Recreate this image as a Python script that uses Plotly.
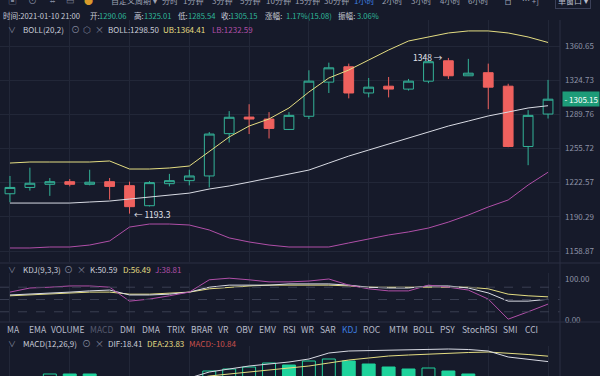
import numpy as np
import plotly.graph_objects as go

# ---------------- data ----------------
idx = list(range(28))
open_ = [1212, 1218, 1221, 1223.5, 1221, 1223.5, 1219.7, 1200.7, 1221.6, 1224.5,
         1229, 1270.4, 1287, 1285, 1274.6, 1287.8, 1322.7, 1338.7, 1311.5, 1318.5,
         1315.5, 1323.7, 1345, 1329.3, 1332.5, 1318.5, 1257.7, 1290.06]
high = [1229, 1237, 1227, 1226, 1235, 1227, 1223.5, 1224, 1231, 1235,
        1272, 1293, 1300, 1292, 1292, 1335, 1343, 1342, 1327, 1328,
        1326, 1346, 1348, 1347, 1342, 1321, 1294, 1325.01]
low = [1204, 1215, 1210, 1219, 1220, 1206.5, 1193.3, 1200, 1219, 1220,
       1218, 1261.6, 1270, 1265.6, 1274, 1285, 1311.5, 1306, 1307, 1307,
       1314, 1321.6, 1326, 1329, 1295, 1257, 1239.4, 1285.54]
close = [1218, 1222, 1223.5, 1221, 1223, 1219, 1199.8, 1222.6, 1224.5, 1229,
         1270, 1286.8, 1285, 1275.6, 1288.7, 1323.7, 1337.6, 1311.5, 1317.5, 1315.5,
         1323.7, 1344, 1329.3, 1332, 1317.5, 1257.7, 1288.7, 1305.15]

boll_ub = [1241.5, 1242.5, 1242.5, 1242.5, 1242.5, 1243.5, 1235.7, 1235.7, 1236.7, 1238.6,
           1253.0, 1267.1, 1278.0, 1285.1, 1296.2, 1312.5, 1327.0, 1335.3, 1345.8, 1356.4,
           1366.0, 1370.3, 1374.6, 1376.8, 1376.8, 1374.6, 1370.3, 1364.41]
boll_mid = [1203.2, 1203.2, 1203.2, 1203.2, 1204.2, 1205.1, 1207.0, 1208.9, 1210.8, 1212.6,
            1216.5, 1219.4, 1223.1, 1227.0, 1230.8, 1234.7, 1241.5, 1248.3, 1254.2, 1260.1,
            1266.0, 1272.0, 1278.0, 1283.0, 1288.1, 1292.1, 1296.2, 1298.50]
boll_lb = [1161.6, 1161.6, 1162.5, 1162.5, 1164.3, 1168.0, 1180.8, 1183.6, 1183.6, 1182.7,
           1178.1, 1170.8, 1167.1, 1164.3, 1162.5, 1162.5, 1162.5, 1166.2, 1169.8, 1173.5,
           1176.3, 1179.9, 1185.4, 1192.0, 1199.5, 1206.1, 1220.3, 1232.59]

kdj_k = [61, 63, 66, 68, 71, 73, 61, 61, 63, 68, 80, 85, 85, 85, 88, 88, 88, 85, 80, 78,
         78, 83, 83, 78, 66, 46, 46, 50.59]
kdj_d = [59, 61, 63, 66, 68, 68, 63, 63, 66, 68, 76, 80, 83, 85, 85, 85, 85, 83, 80, 80,
         80, 80, 80, 80, 76, 63, 59, 56.49]
kdj_j = [68, 78, 80, 83, 83, 80, 46, 51, 59, 68, 98, 102, 98, 93, 93, 95, 100, 85, 76, 71,
         71, 85, 80, 73, 51, 2, 20, 38.81]

macd_dif = [-2, -1.5, -1, -0.5, 0, 0.5, -1, -1.5, -0.5, 2, 8, 11, 14, 16, 18, 21, 27, 29, 29.5, 30,
            30, 30.5, 31, 30.5, 29, 23, 20.5, 18.41]
macd_dea = [-3, -2.5, -2, -1.5, -1, -0.5, -0.5, -0.5, -0.5, 0.5, 4, 6, 8, 10, 12.5, 14, 17, 20, 22, 24,
            25, 26, 27, 27.5, 28, 27, 25.5, 23.83]
macd_hist = [2, 3, 6, 6, 6, 3, -2, -3, 1, 3, 9, 11, 13, 17, 15, 19, 21, 19, 16, 13,
             11, 12, 9, 6, -2, -8, -10, -10.84]

price_ticks = [1158.87, 1190.29, 1222.57, 1255.72, 1289.76, 1324.73, 1360.65]

# ---------------- style ----------------
W, H = 600, 376
BG = "#161a2a"
GRID = "#222738"
SEP = "#2a2f42"
FONT = "Noto Sans CJK SC, Noto Sans, sans-serif"
UP = "#33b398"
DOWN = "#ef615e"
MACD_G = "#1fd39c"
YEL = "#e4dd82"
WHT = "#d8dae3"
PUR = "#b04fa8"
LBL = "#c9ccd8"
DIM = "#80859a"
TEAL = "#2fb89a"
AXT = "#8d92a6"

def py(px):
    return 1 - px / H

def pxx(px):
    return px / W

XEND = 560 / W

# main log axis mapping from tick pixel positions
lt, lb_ = np.log10(1360.65), np.log10(1158.87)
k = (lt - lb_) / (251 - 46)
main_range = [lb_ - k * (262 - 251), lt + k * (46 - 20)]

fig = go.Figure()

fig.add_trace(go.Candlestick(
    x=idx, open=open_, high=high, low=low, close=close,
    increasing=dict(line=dict(color=UP, width=1), fillcolor=BG),
    decreasing=dict(line=dict(color=DOWN, width=1), fillcolor=DOWN),
    whiskerwidth=0, xaxis="x", yaxis="y", showlegend=False, hoverinfo="skip"))

for arr, col in [(boll_ub, YEL), (boll_mid, WHT), (boll_lb, PUR)]:
    fig.add_trace(go.Scatter(x=idx, y=arr, mode="lines", line=dict(color=col, width=1),
                             xaxis="x", yaxis="y", showlegend=False, hoverinfo="skip"))

for arr, col in [(kdj_d, YEL), (kdj_k, WHT), (kdj_j, PUR)]:
    fig.add_trace(go.Scatter(x=idx, y=arr, mode="lines", line=dict(color=col, width=1),
                             xaxis="x2", yaxis="y2", showlegend=False, hoverinfo="skip"))

bar_fill, bar_line = [], []
for i, v in enumerate(macd_hist):
    col = MACD_G if v >= 0 else DOWN
    rising = i > 0 and v > macd_hist[i - 1]
    bar_line.append(col)
    bar_fill.append(BG if rising else col)
fig.add_trace(go.Bar(x=idx, y=macd_hist, width=0.65,
                     marker=dict(color=bar_fill, line=dict(color=bar_line, width=1)),
                     xaxis="x3", yaxis="y3", showlegend=False, hoverinfo="skip"))
for arr, col in [(macd_dea, YEL), (macd_dif, WHT)]:
    fig.add_trace(go.Scatter(x=idx, y=arr, mode="lines", line=dict(color=col, width=1),
                             xaxis="x3", yaxis="y3", showlegend=False, hoverinfo="skip"))

xcommon = dict(domain=[0, XEND], range=[-0.5, 27.6], showticklabels=False, showgrid=True,
               gridcolor=GRID, gridwidth=1, dtick=3, tick0=0, zeroline=False,
               showline=False, ticks="", fixedrange=True, automargin=False)

fig.update_layout(
    width=W, height=H, margin=dict(l=0, r=0, t=0, b=0, autoexpand=False),
    paper_bgcolor=BG, plot_bgcolor=BG,
    font=dict(family=FONT, color=LBL, size=8),
    bargap=0.3,
    xaxis=dict(**xcommon, anchor="y", rangeslider=dict(visible=False)),
    xaxis2=dict(**xcommon, anchor="y2", matches="x"),
    xaxis3=dict(**xcommon, anchor="y3", matches="x"),
    yaxis=dict(type="log", domain=[py(262), py(20)], range=main_range, side="right",
               tickvals=price_ticks, ticktext=[f"{v:.2f}" for v in price_ticks],
               showgrid=True, gridcolor=GRID, zeroline=False, ticks="", ticklen=0,
               tickfont=dict(size=8, color=AXT), ticklabelstandoff=4,
               anchor="x", fixedrange=True, automargin=False),
    yaxis2=dict(domain=[py(322), py(273)], range=[-4.9, 114.6], side="right",
                tickvals=[0, 100], ticktext=["0.00", "100.00"], showgrid=False,
                zeroline=False, ticks="", ticklen=0, tickfont=dict(size=8, color=AXT),
                ticklabelstandoff=4, anchor="x2", fixedrange=True, automargin=False),
    yaxis3=dict(domain=[0, py(346)], range=[4, 34], showticklabels=False, showgrid=False,
                zeroline=False, anchor="x3", fixedrange=True, automargin=False),
)

shapes = []
for v in [20, 50, 80]:
    shapes.append(dict(type="line", xref="paper", yref="y2", x0=0, x1=XEND, y0=v, y1=v,
                       line=dict(color="#3a3f52", width=1, dash="dash")))
for ypx in [263, 322]:
    shapes.append(dict(type="line", xref="paper", yref="paper", x0=0, x1=1,
                       y0=py(ypx), y1=py(ypx), line=dict(color=SEP, width=1)))
shapes.append(dict(type="line", xref="paper", yref="paper", x0=XEND, x1=XEND,
                   y0=0, y1=py(20), line=dict(color=SEP, width=1)))
fig.update_layout(shapes=shapes)

ann = []

def txt(x, y, s, color=LBL, size=8, anchor="left", **kw):
    ann.append(dict(x=pxx(x), y=py(y), xref="paper", yref="paper", text=s, showarrow=False,
                    xanchor=anchor, yanchor="middle",
                    font=dict(color=color, size=size, family=FONT), **kw))

# top toolbar (cut at top edge, as in the source screenshot)
for xc, s, c in [(12, "▣", DIM), (32, "⊙", DIM), (52, "⌗", DIM), (70, "▭", DIM), (88, "●", "#d99a2b")]:
    txt(xc, 0.5, s, c, 9, "center")
txt(109, 0.5, "自定义周期 ▾", "#9ea2b3", 8)
for xc, s in [(170, "分时"), (193, "1分钟"), (222, "3分钟"), (250, "5分钟"), (278, "10分钟"),
              (307, "15分钟"), (336, "30分钟"), (364, "1小时"), (392, "2小时"), (421, "3小时"),
              (450, "4小时"), (478, "6小时"), (508, "日"), (530, "⋯ +]")]:
    txt(xc, 0.5, s, "#3d7fe0" if s == "1小时" else "#9ea2b3", 8, "center")
txt(573, 0.5, "单窗口 ▾", "#b9bccb", 8, "center", bordercolor="#3b4058", borderwidth=1,
    borderpad=2)

# info row
txt(1, 16, "时间:2021-01-10 21:00", LBL, 7.6)
for x0, lab, x1, val in [(88, "开:", 97, "1290.06"), (132, "高:", 142, "1325.01"),
                         (176, "低:", 186, "1285.54"), (219, "收:", 228, "1305.15"),
                         (263, "涨幅:", 284, "1.17%(15.08)"), (336, "振幅:", 355, "3.06%")]:
    txt(x0, 16, lab, LBL, 7.6)
    txt(x1, 16, val, TEAL, 7.6)

# BOLL header
txt(12, 29, "∨", DIM, 8, "center")
txt(21, 29, "BOLL(20,2)", LBL)
txt(75, 29, "⊙", DIM, 9, "center")
txt(87, 29, "⬡", DIM, 9, "center")
txt(99, 29, "×", DIM, 9, "center")
txt(106, 29, "BOLL:1298.50", LBL)
txt(161, 29, "UB:1364.41", YEL)
txt(210, 29, "LB:1232.59", PUR)

# KDJ header
txt(12, 269, "∨", DIM, 8, "center")
txt(21, 269, "KDJ(9,3,3)", LBL)
txt(68, 269, "⊙", DIM, 9, "center")
txt(81, 269, "×", DIM, 9, "center")
txt(88, 269, "K:50.59", LBL)
txt(121, 269, "D:56.49", YEL)
txt(153, 269, "J:38.81", PUR)

# indicator tabs
for xc, s in [(13, "MA"), (38, "EMA"), (67, "VOLUME"), (101, "MACD"), (127, "DMI"), (151, "DMA"),
              (176, "TRIX"), (202, "BRAR"), (223, "VR"), (244, "OBV"), (267, "EMV"), (289, "RSI"),
              (307, "WR"), (328, "SAR"), (350, "KDJ"), (372, "ROC"), (398, "MTM"), (424, "BOLL"),
              (447, "PSY"), (479, "StochRSI"), (510, "SMI"), (531, "CCI")]:
    col = "#565b6f" if s == "MACD" else ("#3d7fe0" if s == "KDJ" else "#b8bccb")
    txt(xc, 329, s, col, 8.5, "center")

# MACD header
txt(12, 343, "∨", DIM, 8, "center")
txt(21, 343, "MACD(12,26,9)", LBL)
txt(86, 343, "⊙", DIM, 9, "center")
txt(99, 343, "×", DIM, 9, "center")
txt(106, 343, "DIF:18.41", LBL)
txt(145, 343, "DEA:23.83", YEL)
txt(187, 343, "MACD:-10.84", "#c9504c")

# extremes
hi_i = int(np.argmax(high))
lo_i = int(np.argmin(low))
ann.append(dict(x=hi_i - 0.15, y=np.log10(high[hi_i]) + 0.0004, xref="x", yref="y",
                text=f"{high[hi_i]:g} →", showarrow=False, xanchor="right", yanchor="middle",
                font=dict(color="#e2e4ec", size=8.5, family=FONT)))
ann.append(dict(x=lo_i + 0.1, y=np.log10(low[lo_i]), xref="x", yref="y",
                text=f"← {low[lo_i]:g}", showarrow=False, xanchor="left", yanchor="middle",
                font=dict(color="#e2e4ec", size=8.5, family=FONT)))
# current price tag
ann.append(dict(x=562 / W, y=np.log10(close[-1]), xref="paper", yref="y",
                text=f"- {close[-1]:.2f}", showarrow=False, xanchor="left", yanchor="middle",
                bgcolor="#1d9b78", borderpad=1.5,
                font=dict(color="#ffffff", size=8, family=FONT)))

fig.update_layout(annotations=ann)
fig.write_html("out.html", config={"displayModeBar": False, "staticPlot": True},
               post_script="document.body.style.margin='0';document.body.style.overflow='hidden';")
